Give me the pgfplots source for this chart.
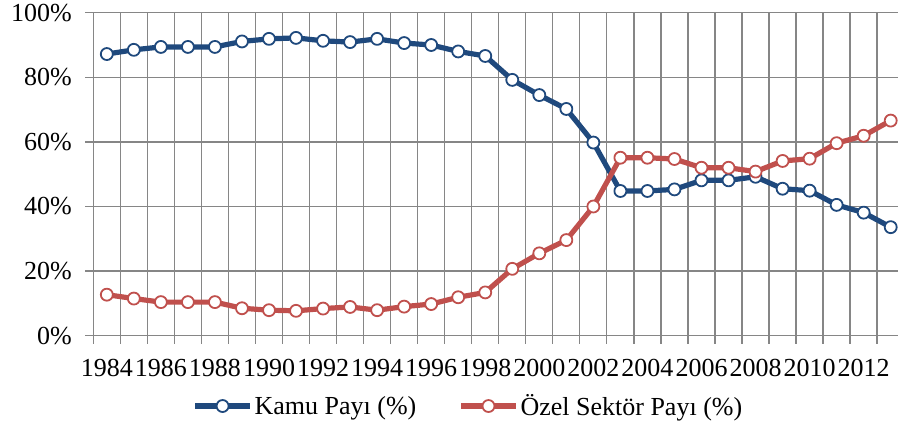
\documentclass[border=0pt]{standalone}
\usepackage{fontspec}
\setmainfont{Liberation Serif}
\usepackage{pgfplots}
\pgfplotsset{compat=1.18}
\definecolor{kamu}{RGB}{31,73,125}
\definecolor{ozel}{RGB}{192,80,77}
\definecolor{gridc}{RGB}{134,134,134}
\begin{document}
\begin{tikzpicture}
\begin{axis}[
  at={(0,0)}, anchor=south west,
  scale only axis,
  width=804.7bp, height=323bp,
  xmin=1983.5, xmax=2013.27,
  ymin=0, ymax=100,
  clip=false,
  axis lines*=left,
  axis line style={gridc, line width=1.3bp, -},
  /pgf/number format/assume math mode=true,
  xtick={1983.5,1984.5,...,2012.5},
  xticklabels={},
  xmajorgrids,
  extra x ticks={1984,1986,...,2012},
  extra x tick labels={1984,1986,1988,1990,1992,1994,1996,1998,2000,2002,2004,2006,2008,2010,2012},
  extra x tick style={grid=none, major tick length=0pt},
  ytick={0,20,40,60,80,100},
  yticklabels={0\%,20\%,40\%,60\%,80\%,100\%},
  ymajorgrids,
  grid style={gridc, line width=1.3bp},
  tick style={gridc, line width=1.3bp},
  tick align=outside,
  major tick length=8bp,
  ticklabel style={font=\fontsize{26bp}{30bp}\selectfont, text=black},
  yticklabel style={xshift=-10bp},
  xticklabel style={yshift=-20bp},
  legend style={draw=none, fill=none, inner sep=0pt, at={(0.123,-0.2177)}, anchor=west,
    font=\fontsize{26bp}{30bp}\selectfont},
  legend columns=2,
  legend cell align=left,
  /tikz/every even column/.append style={column sep=40bp},
  legend image code/.code={
    \draw[mark repeat=2, mark phase=2, #1] plot coordinates {(0bp,0bp) (27.5bp,0bp) (55bp,0bp)};
  },
]
\addplot[kamu, line width=5.2bp, line join=round, mark=*, mark size=6bp,
  mark options={fill=white, draw=kamu, line width=1.8bp, solid}]
  coordinates {
  (1984,87.2) (1985,88.5) (1986,89.4) (1987,89.4) (1988,89.4) (1989,91.1)
  (1990,91.9) (1991,92.2) (1992,91.3) (1993,90.9) (1994,91.9) (1995,90.6)
  (1996,90.0) (1997,88.0) (1998,86.6) (1999,79.2) (2000,74.5) (2001,70.2)
  (2002,59.8) (2003,44.8) (2004,44.8) (2005,45.3) (2006,48.1) (2007,48.1)
  (2008,49.2) (2009,45.5) (2010,44.9) (2011,40.5) (2012,38.1) (2013,33.6)
  };
\addlegendentry{Kamu Payı (\%)}
\addplot[ozel, line width=5.2bp, line join=round, mark=*, mark size=6bp,
  mark options={fill=white, draw=ozel, line width=1.8bp, solid}]
  coordinates {
  (1984,12.7) (1985,11.5) (1986,10.4) (1987,10.4) (1988,10.4) (1989,8.5)
  (1990,7.9) (1991,7.7) (1992,8.4) (1993,8.9) (1994,7.9) (1995,9.0)
  (1996,9.8) (1997,11.9) (1998,13.4) (1999,20.7) (2000,25.5) (2001,29.6)
  (2002,40.0) (2003,55.1) (2004,55.1) (2005,54.7) (2006,52.0) (2007,52.0)
  (2008,50.8) (2009,54.1) (2010,54.8) (2011,59.6) (2012,61.9) (2013,66.6)
  };
\addlegendentry{Özel Sektör Payı (\%)}
\end{axis}
\pgfresetboundingbox
\path[use as bounding box] (-93.3bp,-92.3bp) rectangle (804.7bp,335.7bp);
\end{tikzpicture}
\end{document}
